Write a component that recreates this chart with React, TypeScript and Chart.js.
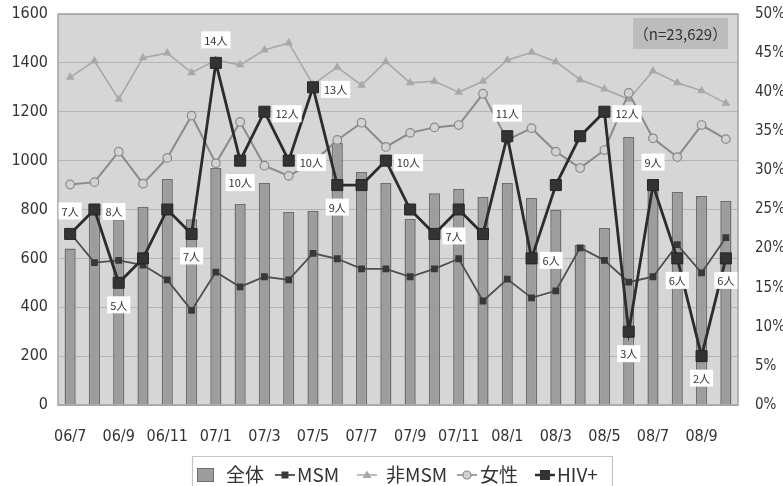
import { useEffect, useRef } from 'react';
import { Chart, registerables } from 'chart.js';

Chart.register(...registerables);

// Monthly series, 2006/7 – 2008/10
const months = [
  '06/7', '06/8', '06/9', '06/10', '06/11', '06/12',
  '07/1', '07/2', '07/3', '07/4', '07/5', '07/6', '07/7', '07/8', '07/9', '07/10', '07/11', '07/12',
  '08/1', '08/2', '08/3', '08/4', '08/5', '08/6', '08/7', '08/8', '08/9', '08/10',
];

// 全体 (left axis, persons)
const totalCounts = [
  640, 800, 760, 810, 925, 760,
  970, 822, 908, 790, 794, 1072, 953, 908, 761, 867, 884, 851,
  908, 847, 798, 655, 724, 1097, 900, 872, 855, 835,
];

// Shares on the right axis (%)
const msmPct = [
  22.0, 18.2, 18.5, 17.9, 16.0, 12.1,
  17.0, 15.1, 16.4, 16.0, 19.4, 18.7, 17.4, 17.4, 16.4, 17.4, 18.7, 13.3,
  16.1, 13.7, 14.6, 20.1, 18.5, 15.7, 16.4, 20.5, 16.9, 21.4,
];
const nonMsmPct = [
  41.9, 44.0, 39.1, 44.4, 45.0, 42.5,
  44.1, 43.5, 45.4, 46.3, 41.0, 43.2, 40.9, 43.9, 41.2, 41.4, 40.0, 41.4,
  44.1, 45.1, 43.9, 41.6, 40.4, 39.1, 42.7, 41.2, 40.2, 38.6,
];
const femalePct = [
  28.2, 28.5, 32.4, 28.3, 31.6, 37.0,
  30.9, 36.2, 30.6, 29.3, 31.0, 33.9, 36.1, 33.0, 34.8, 35.5, 35.8, 39.8,
  33.9, 35.4, 32.4, 30.3, 32.6, 39.9, 34.1, 31.7, 35.8, 34.0,
];

// HIV+ (persons), plotted on a 0–16 scale aligned with the 0–50% axis
const hivCounts = [
  7, 8, 5, 6, 8, 7,
  14, 10, 12, 10, 13, 9, 9, 10, 8, 7, 8, 7,
  11, 6, 9, 11, 12, 3, 9, 6, 2, 6,
];

// Where each HIV+ count label sits relative to its marker (null = no label)
const hivLabelSide: (string | null)[] = [
  'above', 'right', 'below', null, null, 'below',
  'above', 'below', 'right', 'right', 'right', 'below', null, 'right', null, 'right', null, null,
  'above', 'right', null, null, 'right', 'below', 'above', 'below', 'below', 'below',
];

const sampleNote = '（n=23,629）';

const NUM_FONT = "'Liberation Sans Narrow', 'DejaVu Sans Condensed', 'Liberation Sans', sans-serif";
const JP_FONT = "'Noto Sans CJK JP', 'Noto Sans', sans-serif";

const COLORS = {
  page: '#ffffff',
  plot: '#d6d6d6',
  plotBorder: '#a2a2a2',
  grid: '#b4b4b4',
  barFill: '#9d9d9d',
  barEdge: '#6e6e6e',
  msm: '#4e4e4e',
  msmPoint: '#383838',
  nonMsm: '#a8a8a8',
  female: '#8a8a8a',
  femalePoint: '#d2d2d2',
  hiv: '#2c2c2c',
  text: '#333333',
};

const plotBackground = {
  id: 'plotBackground',
  beforeDraw(chart: any) {
    const { ctx, chartArea: a } = chart;
    ctx.save();
    ctx.fillStyle = COLORS.page;
    ctx.fillRect(0, 0, chart.width, chart.height);
    ctx.fillStyle = COLORS.plot;
    ctx.fillRect(a.left, a.top, a.right - a.left, a.bottom - a.top);
    ctx.restore();
  },
  beforeDatasetsDraw(chart: any) {
    const { ctx, chartArea: a } = chart;
    ctx.save();
    ctx.strokeStyle = COLORS.plotBorder;
    ctx.lineWidth = 1.5;
    ctx.strokeRect(a.left, a.top, a.right - a.left, a.bottom - a.top);
    ctx.restore();
  },
};

const hivLabels = {
  id: 'hivLabels',
  afterDatasetsDraw(chart: any) {
    const { ctx } = chart;
    const meta = chart.getDatasetMeta(4);
    ctx.save();
    ctx.font = `11px ${JP_FONT}`;
    ctx.textAlign = 'center';
    ctx.textBaseline = 'middle';
    hivCounts.forEach((n, i) => {
      const side = hivLabelSide[i];
      if (!side) return;
      const pt = meta.data[i];
      const text = `${n}人`;
      const w = ctx.measureText(text).width + 6;
      const h = 17;
      let cx = pt.x;
      let cy = pt.y;
      if (side === 'above') cy = pt.y - 23;
      else if (side === 'below') cy = pt.y + 22;
      else if (side === 'right') {
        cx = pt.x + 8 + w / 2;
        cy = pt.y + 2;
      }
      ctx.fillStyle = '#ffffff';
      ctx.fillRect(cx - w / 2, cy - h / 2, w, h);
      ctx.fillStyle = '#333333';
      ctx.fillText(text, cx, cy + 0.5);
    });
    ctx.restore();
  },
};

const noteBox = {
  id: 'noteBox',
  afterDatasetsDraw(chart: any) {
    const { ctx, chartArea: a } = chart;
    const x = a.right - 105;
    const y = a.top + 4;
    ctx.save();
    ctx.fillStyle = '#bcbcbc';
    ctx.fillRect(x, y, 95, 31);
    ctx.fillStyle = '#333333';
    ctx.font = `15px ${JP_FONT}`;
    ctx.textAlign = 'center';
    ctx.textBaseline = 'middle';
    ctx.fillText(sampleNote, x + 47.5, y + 16);
    ctx.restore();
  },
};

function marker(ctx: CanvasRenderingContext2D, kind: string, x: number, y: number) {
  ctx.beginPath();
  if (kind === 'msm') {
    ctx.fillStyle = COLORS.msmPoint;
    ctx.fillRect(x - 3.5, y - 3.5, 7, 7);
  } else if (kind === 'nonMsm') {
    ctx.fillStyle = COLORS.nonMsm;
    ctx.moveTo(x, y - 4.5);
    ctx.lineTo(x + 4.5, y + 3);
    ctx.lineTo(x - 4.5, y + 3);
    ctx.closePath();
    ctx.fill();
  } else if (kind === 'female') {
    ctx.fillStyle = COLORS.femalePoint;
    ctx.strokeStyle = COLORS.female;
    ctx.lineWidth = 1.2;
    ctx.arc(x, y, 4, 0, Math.PI * 2);
    ctx.fill();
    ctx.stroke();
  } else if (kind === 'hiv') {
    ctx.fillStyle = '#333333';
    ctx.fillRect(x - 5, y - 5, 10, 10);
  }
}

const bottomLegend = {
  id: 'bottomLegend',
  afterDraw(chart: any) {
    const { ctx } = chart;
    const yMid = 475;
    ctx.save();
    // frame
    ctx.strokeStyle = '#c4c4c4';
    ctx.lineWidth = 1.2;
    ctx.beginPath();
    ctx.moveTo(192.5, 490);
    ctx.lineTo(192.5, 456.5);
    ctx.lineTo(612.5, 456.5);
    ctx.lineTo(612.5, 490);
    ctx.stroke();

    ctx.font = `19px ${JP_FONT}`;
    ctx.textBaseline = 'middle';
    ctx.textAlign = 'left';

    // 全体 swatch
    ctx.fillStyle = COLORS.barFill;
    ctx.fillRect(197, 468, 17, 14);
    ctx.strokeStyle = COLORS.barEdge;
    ctx.lineWidth = 1;
    ctx.strokeRect(197.5, 468.5, 16, 13);
    ctx.fillStyle = '#333333';
    ctx.fillText('全体', 226, yMid);

    const items = [
      { kind: 'msm', color: COLORS.msm, width: 1.8, x0: 275, text: 'MSM', tx: 297 },
      { kind: 'nonMsm', color: COLORS.nonMsm, width: 1.5, x0: 357, text: '非MSM', tx: 386 },
      { kind: 'female', color: COLORS.female, width: 1.6, x0: 457, text: '女性', tx: 480 },
      { kind: 'hiv', color: COLORS.hiv, width: 2.5, x0: 535, text: 'HIV+', tx: 557 },
    ];
    items.forEach((it) => {
      ctx.strokeStyle = it.color;
      ctx.lineWidth = it.width;
      ctx.beginPath();
      ctx.moveTo(it.x0, yMid);
      ctx.lineTo(it.x0 + 20, yMid);
      ctx.stroke();
      marker(ctx, it.kind, it.x0 + 10, yMid);
      ctx.fillStyle = '#333333';
      ctx.fillText(it.text, it.tx, yMid);
    });
    ctx.restore();
  },
};

// Vertical axes: fixed widths, and no extra top/bottom room for the end labels
const fitVertical = (width: number) => (s: any) => {
  s.width = width;
  s.paddingTop = 0;
  s.paddingBottom = 0;
};

export default function App() {
  const canvasRef = useRef<HTMLCanvasElement | null>(null);

  useEffect(() => {
    document.body.style.margin = '0';
    const canvas = canvasRef.current;
    if (!canvas) return;

    const chart = new Chart(canvas, {
      type: 'bar',
      data: {
        labels: months,
        datasets: [
          {
            type: 'bar',
            label: '全体',
            data: totalCounts,
            yAxisID: 'y',
            backgroundColor: COLORS.barFill,
            borderColor: COLORS.barEdge,
            borderWidth: 1.5,
            barPercentage: 0.46,
            categoryPercentage: 1,
            order: 5,
          },
          {
            type: 'line',
            label: 'MSM',
            data: msmPct,
            yAxisID: 'y1',
            borderColor: COLORS.msm,
            borderWidth: 1.8,
            pointStyle: 'rect',
            pointRadius: 4.8,
            pointBackgroundColor: COLORS.msmPoint,
            pointBorderColor: COLORS.msmPoint,
            pointBorderWidth: 0,
            tension: 0,
            fill: false,
            order: 2,
          },
          {
            type: 'line',
            label: '非MSM',
            data: nonMsmPct,
            yAxisID: 'y1',
            borderColor: COLORS.nonMsm,
            borderWidth: 1.6,
            pointStyle: 'triangle',
            pointRadius: 5,
            pointBackgroundColor: COLORS.nonMsm,
            pointBorderColor: COLORS.nonMsm,
            pointBorderWidth: 0,
            tension: 0,
            fill: false,
            order: 4,
          },
          {
            type: 'line',
            label: '女性',
            data: femalePct,
            yAxisID: 'y1',
            borderColor: COLORS.female,
            borderWidth: 2,
            pointStyle: 'circle',
            pointRadius: 4.3,
            pointBackgroundColor: COLORS.femalePoint,
            pointBorderColor: COLORS.female,
            pointBorderWidth: 1.2,
            tension: 0,
            fill: false,
            order: 3,
          },
          {
            type: 'line',
            label: 'HIV+',
            data: hivCounts,
            yAxisID: 'yHiv',
            borderColor: COLORS.hiv,
            borderWidth: 2.8,
            pointStyle: 'rect',
            pointRadius: 7.8,
            pointBackgroundColor: '#333333',
            pointBorderColor: '#262626',
            pointBorderWidth: 1,
            tension: 0,
            fill: false,
            order: 1,
          },
        ],
      },
      options: {
        animation: false,
        responsive: false,
        devicePixelRatio: 1,
        layout: { padding: { top: 14, left: 0, right: 0, bottom: 0 } },
        plugins: {
          legend: { display: false },
          tooltip: { enabled: false },
        },
        scales: {
          x: {
            offset: true,
            grid: { display: false, drawTicks: false },
            border: { display: false },
            ticks: {
              autoSkip: false,
              maxRotation: 0,
              minRotation: 0,
              padding: 22,
              color: COLORS.text,
              font: { family: NUM_FONT, size: 16 },
              callback: (_v: any, i: number) => (i % 2 === 0 ? months[i] : ''),
            },
            afterFit: (s: any) => {
              s.height = 81;
            },
          },
          y: {
            position: 'left',
            min: 0,
            max: 1600,
            grid: { color: COLORS.grid, lineWidth: 1, drawTicks: false },
            border: { display: false },
            ticks: {
              stepSize: 200,
              padding: 10,
              color: COLORS.text,
              font: { family: NUM_FONT, size: 16 },
              callback: (v: any) => String(v),
            },
            afterFit: fitVertical(58),
          },
          y1: {
            position: 'right',
            min: 0,
            max: 50,
            grid: { drawOnChartArea: false, drawTicks: false },
            border: { display: false },
            ticks: {
              stepSize: 5,
              padding: 17,
              color: COLORS.text,
              font: { family: NUM_FONT, size: 15 },
              callback: (v: any) => `${v}%`,
            },
            afterFit: fitVertical(45),
          },
          yHiv: {
            display: false,
            min: 0,
            max: 16,
          },
        },
      },
      plugins: [plotBackground, hivLabels, noteBox, bottomLegend],
    } as any);

    return () => chart.destroy();
  }, []);

  return (
    <div style={{ width: 783, height: 486, background: '#ffffff' }}>
      <canvas ref={canvasRef} width={783} height={486} />
    </div>
  );
}
